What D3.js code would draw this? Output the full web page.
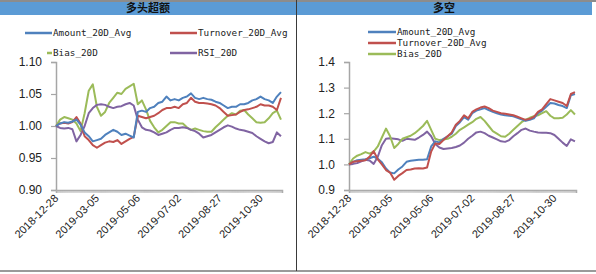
<!DOCTYPE html>
<html>
<head>
<meta charset="utf-8">
<script src="https://cdn.jsdelivr.net/npm/d3@7"></script>
<style>
  body { margin: 0; background: #fff; }
  svg { display: block; }
</style>
</head>
<body>
<div id="chart"></div>
<script>
// x axis: one category per trading day, labelled every 40 days
const dayCount = 221;
const tickDays = [0, 40, 80, 120, 160, 200];
const tickLabels = ["2018-12-28", "2019-03-05", "2019-05-06", "2019-07-02", "2019-08-27", "2019-10-30"];
// series values were read every 4th trading day
const sampleDays = d3.range(0, dayCount, 4);

const seriesNames = ["Amount_20D_Avg", "Turnover_20D_Avg", "Bias_20D", "RSI_20D"];
const seriesColors = ["#4f81bd", "#c0504d", "#9bbb59", "#8064a2"];

// 多头超额
const amountLong = [1.000,1.004,1.006,1.005,1.007,1.010,1.002,0.990,0.984,0.976,
  0.978,0.980,0.986,0.990,0.994,0.991,0.986,0.988,0.985,0.982,
  1.022,1.024,1.022,1.028,1.030,1.036,1.038,1.046,1.040,1.042,
  1.040,1.044,1.046,1.051,1.044,1.042,1.044,1.042,1.041,1.038,
  1.036,1.032,1.028,1.030,1.030,1.034,1.034,1.036,1.040,1.042,
  1.046,1.042,1.040,1.036,1.046,1.053];
const turnoverLong = [1.000,1.004,1.005,1.004,1.006,1.014,1.004,0.984,0.978,0.970,
  0.966,0.970,0.974,0.976,0.975,0.978,0.972,0.976,0.980,0.983,
  1.016,1.014,1.012,1.014,1.016,1.020,1.025,1.028,1.028,1.030,
  1.028,1.034,1.036,1.044,1.038,1.036,1.036,1.035,1.034,1.032,
  1.028,1.022,1.016,1.017,1.018,1.022,1.025,1.026,1.028,1.030,
  1.034,1.032,1.032,1.030,1.025,1.044];
const biasLong = [1.000,1.010,1.014,1.012,1.010,1.004,0.992,1.020,1.055,1.065,
  1.030,1.016,1.022,1.036,1.044,1.052,1.050,1.058,1.062,1.066,
  1.034,1.040,1.026,1.008,0.998,0.990,0.994,1.000,1.006,1.006,
  1.004,1.004,0.998,0.994,0.996,0.994,0.992,0.991,0.991,0.998,
  1.004,1.010,1.016,1.020,1.018,1.024,1.025,1.018,1.012,1.006,
  1.005,1.006,1.012,1.020,1.024,1.010];
const rsiLong = [1.000,0.997,0.996,0.997,0.995,0.976,0.986,1.000,1.020,1.028,
  1.033,1.034,1.033,1.030,1.028,1.030,1.031,1.034,1.036,1.032,
  1.010,0.998,0.994,0.993,0.990,0.986,0.988,0.990,0.994,0.997,
  0.997,0.998,0.997,0.994,0.992,0.988,0.982,0.984,0.986,0.990,
  0.994,0.998,1.001,0.999,0.996,0.994,0.993,0.991,0.989,0.984,
  0.980,0.976,0.973,0.975,0.990,0.984];

// 多空
const amountLS = [1.000,1.010,1.016,1.018,1.020,1.024,1.030,1.022,1.008,0.984,
  0.968,0.965,0.980,0.992,1.010,1.014,1.016,1.018,1.018,1.020,
  1.070,1.090,1.086,1.100,1.110,1.120,1.150,1.165,1.185,1.175,
  1.200,1.210,1.215,1.220,1.212,1.205,1.200,1.195,1.192,1.190,
  1.188,1.182,1.176,1.170,1.174,1.180,1.200,1.210,1.225,1.240,
  1.238,1.232,1.228,1.220,1.270,1.275];
const turnoverLS = [1.000,1.010,1.012,1.014,1.016,1.030,1.052,1.020,1.000,0.978,
  0.968,0.940,0.955,0.966,0.978,0.980,0.984,0.985,0.984,0.988,
  1.050,1.082,1.080,1.095,1.110,1.125,1.155,1.170,1.192,1.180,
  1.205,1.215,1.222,1.226,1.220,1.210,1.205,1.200,1.198,1.195,
  1.192,1.186,1.180,1.174,1.178,1.186,1.205,1.215,1.235,1.255,
  1.250,1.245,1.240,1.228,1.275,1.282];
const biasLS = [1.000,1.023,1.034,1.040,1.048,1.042,1.050,1.070,1.105,1.140,
  1.110,1.064,1.080,1.100,1.106,1.112,1.122,1.135,1.150,1.170,
  1.135,1.100,1.095,1.097,1.100,1.108,1.120,1.135,1.145,1.155,
  1.165,1.178,1.185,1.170,1.150,1.130,1.120,1.110,1.108,1.120,
  1.135,1.150,1.165,1.175,1.182,1.188,1.192,1.200,1.208,1.190,
  1.180,1.180,1.182,1.195,1.212,1.195];
const rsiLS = [1.000,1.002,1.005,1.012,1.018,1.015,1.002,1.030,1.075,1.100,
  1.102,1.100,1.098,1.092,1.100,1.098,1.096,1.105,1.115,1.128,
  1.110,1.080,1.066,1.060,1.062,1.064,1.068,1.074,1.085,1.100,
  1.112,1.125,1.128,1.122,1.112,1.105,1.098,1.090,1.088,1.095,
  1.110,1.122,1.135,1.140,1.132,1.128,1.125,1.124,1.124,1.122,
  1.115,1.100,1.085,1.072,1.098,1.090];

const yTicksLong = [0.90, 0.95, 1.00, 1.05, 1.10];
const yTicksLS = [0.9, 1.0, 1.1, 1.2, 1.3, 1.4];

const W = 596, H = 274;
const svg = d3.select("#chart").append("svg").attr("width", W).attr("height", H);

class Panel {
  constructor(opts) {
    this.opts = opts;
    this.draw = this.draw.bind(this);
  }

  draw(g) {
    const o = this.opts;
    const x = d3.scaleLinear().domain([0, dayCount]).range([o.left, o.right]);
    const y = d3.scaleLinear().domain(o.yDomain).range([o.bottom, o.top]);

    // title
    g.append("text")
      .attr("x", o.center).attr("y", 9)
      .attr("text-anchor", "middle").attr("dominant-baseline", "middle")
      .attr("font-family", "'Noto Sans CJK SC', sans-serif")
      .attr("font-weight", "bold").attr("font-size", 11)
      .attr("fill", "#111")
      .text(o.title);

    // legend
    const leg = g.selectAll("g.leg").data(o.legend).enter().append("g").attr("class", "leg");
    leg.append("line")
      .attr("x1", (d) => d.x1).attr("x2", (d) => d.x2)
      .attr("y1", (d) => d.y).attr("y2", (d) => d.y)
      .attr("stroke", (d) => seriesColors[d.s]).attr("stroke-width", 2.5);
    leg.append("text")
      .attr("x", (d) => d.tx).attr("y", (d) => d.y)
      .attr("dominant-baseline", "middle")
      .attr("font-family", "'DejaVu Sans Mono', monospace")
      .attr("font-size", 9.3).attr("fill", "#222")
      .text((d) => seriesNames[d.s]);

    // y axis
    const yAxis = g.append("g")
      .attr("transform", `translate(${o.left},0)`)
      .call(d3.axisLeft(y).tickValues(o.yTicks).tickFormat(d3.format(o.fmt)).tickSize(5).tickPadding(9));
    yAxis.select(".domain").attr("stroke", "#a6a6a6").attr("stroke-width", 1.5);
    yAxis.selectAll(".tick line").attr("stroke", "#a6a6a6").attr("stroke-width", 1.2);
    yAxis.selectAll(".tick text")
      .attr("font-family", "'Liberation Sans', Arial, sans-serif")
      .attr("font-size", 12).attr("fill", "#222");

    // x axis: a tick for every day, labels every 40 days
    const xAxis = g.append("g")
      .attr("transform", `translate(0,${o.bottom})`)
      .call(d3.axisBottom(x).tickValues(d3.range(0, dayCount + 1)).tickSize(3).tickFormat(""));
    xAxis.select(".domain").attr("stroke", "#a6a6a6").attr("stroke-width", 1.5);
    xAxis.selectAll(".tick line").attr("stroke", "#b0b0b0").attr("stroke-width", 0.6);

    g.append("g").selectAll("text").data(tickDays).enter().append("text")
      .attr("transform", (d) => `translate(${x(d) + 3},${o.bottom + 9}) rotate(-45)`)
      .attr("text-anchor", "end")
      .attr("font-family", "'Liberation Sans', Arial, sans-serif")
      .attr("font-size", 11).attr("fill", "#222")
      .text((d, i) => tickLabels[i]);

    // series
    const line = d3.line().x((d) => x(d.day)).y((d) => y(d.v));
    g.append("g").selectAll("path").data(o.series).enter().append("path")
      .attr("d", (s) => line(s.values.map((v, i) => ({ day: sampleDays[i], v }))))
      .attr("fill", "none")
      .attr("stroke", (s) => seriesColors[s.s])
      .attr("stroke-width", 2)
      .attr("stroke-linejoin", "round");
  }
}

// frame: grey rule, blue header band, divider and bottom rule
svg.append("rect").attr("x", 0).attr("y", 0).attr("width", W).attr("height", 2).attr("fill", "#8c8c8c");
svg.append("rect").attr("x", 0).attr("y", 2).attr("width", 592).attr("height", 13).attr("fill", "#5b9bd5");
svg.append("rect").attr("x", 0).attr("y", 270).attr("width", W).attr("height", 2).attr("fill", "#9a9a9a");
svg.append("line").attr("x1", 296.5).attr("x2", 296.5).attr("y1", 0).attr("y2", 271)
  .attr("stroke", "#3a3a3a").attr("stroke-width", 1);

const longPanel = new Panel({
  title: "多头超额", center: 148,
  left: 56, right: 282, top: 62, bottom: 190,
  yDomain: [0.9, 1.1], yTicks: yTicksLong, fmt: ".2f",
  legend: [
    { s: 0, x1: 25, x2: 52, tx: 53, y: 33 },
    { s: 1, x1: 170, x2: 197, tx: 198, y: 33 },
    { s: 2, x1: 47, x2: 52, tx: 53, y: 53 },
    { s: 3, x1: 170, x2: 197, tx: 198, y: 53 },
  ],
  series: [
    { s: 2, values: biasLong },
    { s: 3, values: rsiLong },
    { s: 1, values: turnoverLong },
    { s: 0, values: amountLong },
  ],
});

const lsPanel = new Panel({
  title: "多空", center: 444,
  left: 349, right: 576, top: 62, bottom: 190,
  yDomain: [0.9, 1.4], yTicks: yTicksLS, fmt: ".1f",
  legend: [
    { s: 0, x1: 368, x2: 396, tx: 397, y: 32 },
    { s: 1, x1: 368, x2: 396, tx: 397, y: 43 },
    { s: 2, x1: 368, x2: 396, tx: 397, y: 54 },
  ],
  series: [
    { s: 3, values: rsiLS },
    { s: 2, values: biasLS },
    { s: 0, values: amountLS },
    { s: 1, values: turnoverLS },
  ],
});

svg.append("g").call(longPanel.draw);
svg.append("g").call(lsPanel.draw);
</script>
</body>
</html>
